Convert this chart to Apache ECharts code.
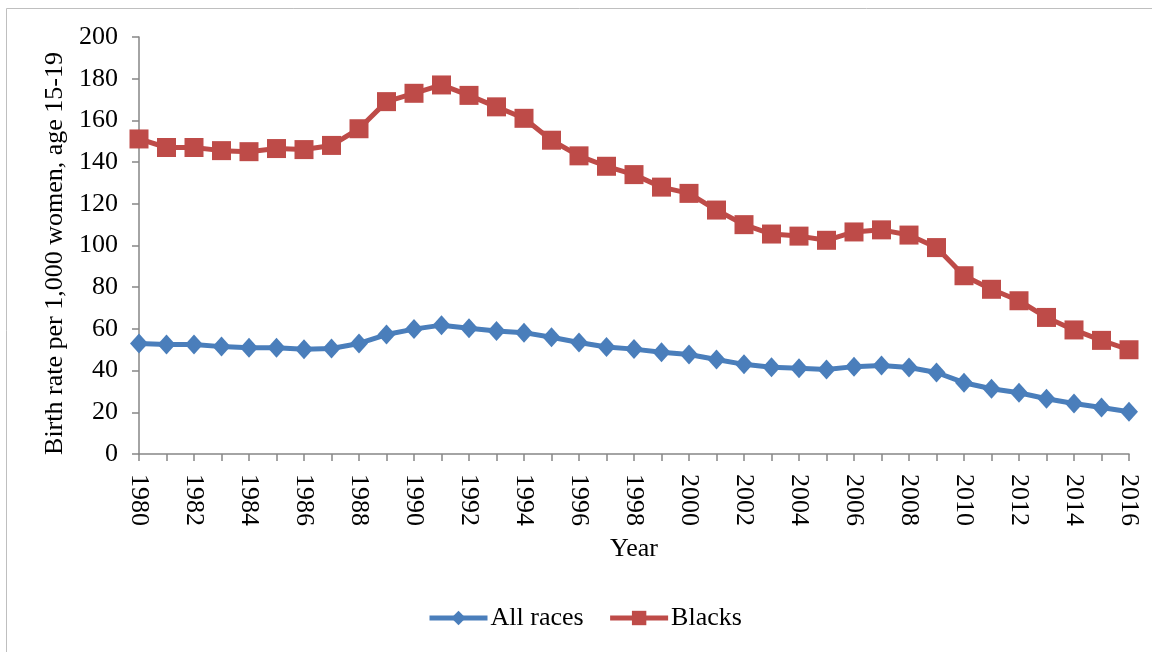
<!DOCTYPE html>
<html>
<head>
<meta charset="utf-8">
<script src="https://cdn.jsdelivr.net/npm/echarts@6/dist/echarts.min.js"></script>
<style>html,body{margin:0;padding:0;background:#fff;}#c{width:1152px;height:652px;}</style>
</head>
<body>
<div id="c"></div>
<script>
const years = [];
for (let y = 1980; y <= 2016; y++) years.push(String(y));
const allRaces = [53, 52.5, 52.5, 51.5, 51, 51, 50.2, 50.6, 53, 57.3, 59.9, 61.8, 60.3, 59, 58.2, 56, 53.5, 51.3, 50.3, 48.8, 47.7, 45.3, 43, 41.6, 41.1, 40.5, 41.9, 42.5, 41.5, 39.1, 34.2, 31.3, 29.4, 26.5, 24.2, 22.3, 20.3];
const blacks = [151.1, 147, 147, 145.5, 145, 146.5, 146, 148, 156, 169, 173, 177, 172, 166.5, 161, 150.5, 143, 138, 134, 128, 125, 117, 110, 105.5, 104.5, 102.5, 106.5, 107.5, 105, 99, 85.5, 79, 73.5, 65.5, 59.5, 54.5, 50];
const yTicks = [0, 20, 40, 60, 80, 100, 120, 140, 160, 180, 200];

const font = 'Liberation Serif';
const chart = echarts.init(document.getElementById('c'));
chart.setOption({
  animation: false,
  backgroundColor: '#fff',
  graphic: [{
    type: 'rect', shape: {x: 6.5, y: 8.5, width: 1160, height: 660},
    style: {fill: 'none', stroke: '#bfbfbf', lineWidth: 1}, silent: true, z: -1
  }],
  grid: {left: 139, right: 23, top: 37, bottom: 198, containLabel: false},
  legend: {
    bottom: 16, left: 422,
    itemWidth: 58, itemHeight: 18, itemGap: 24,
    lineStyle: {width: 5},
    textStyle: {fontFamily: font, fontSize: 26, color: '#000', padding: [0, 0, 0, -2]},
    data: ['All races', 'Blacks']
  },
  xAxis: {
    type: 'category', data: years, boundaryGap: false,
    name: 'Year', nameLocation: 'middle', nameGap: 82,
    nameTextStyle: {fontFamily: font, fontSize: 26, color: '#000'},
    axisLine: {lineStyle: {color: '#868686', width: 1.5}},
    axisTick: {show: true, interval: 0, length: 7, lineStyle: {color: '#868686', width: 1.5}},
    axisLabel: {interval: 1, rotate: -90, fontFamily: font, fontSize: 26, color: '#000', margin: 20}
  },
  yAxis: {
    type: 'value', min: yTicks[0], max: yTicks[yTicks.length - 1], interval: 20,
    name: 'Birth rate per 1,000 women, age 15-19', nameLocation: 'middle', nameGap: 69,
    nameTextStyle: {fontFamily: font, fontSize: 26, color: '#000', padding: [0, 16, 0, 0]},
    axisLine: {show: true, lineStyle: {color: '#868686', width: 1.5}},
    axisTick: {show: true, length: 7, lineStyle: {color: '#868686', width: 1.5}},
    splitLine: {show: false},
    axisLabel: {fontFamily: font, fontSize: 26, color: '#000', margin: 21}
  },
  series: [
    {
      name: 'All races', type: 'line', data: allRaces,
      showAllSymbol: true,
      symbol: 'diamond', symbolSize: [18, 20],
      lineStyle: {color: '#4A7EBB', width: 5},
      itemStyle: {color: '#4A7EBB'}
    },
    {
      name: 'Blacks', type: 'line', data: blacks,
      showAllSymbol: true,
      symbol: 'rect', symbolSize: 19,
      lineStyle: {color: '#BE4B48', width: 5},
      itemStyle: {color: '#BE4B48'}
    }
  ]
});
</script>
</body>
</html>
